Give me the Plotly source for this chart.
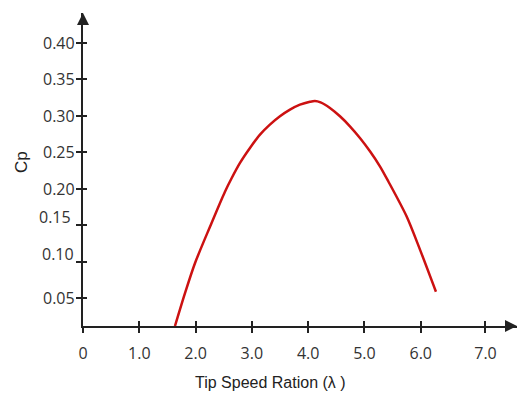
import plotly.graph_objects as go

# Data
tsr = [1.634, 1.812, 1.989, 2.256, 2.522, 2.64, 2.789, 2.966, 3.144, 3.32, 3.499, 3.677, 3.854,
       4.032, 4.12, 4.22, 4.387, 4.565, 4.742, 4.92, 5.098, 5.275, 5.423, 5.75, 5.99, 6.27]
cp = [0.012, 0.057, 0.098, 0.148, 0.196, 0.2144, 0.2354, 0.2559, 0.2741, 0.2878, 0.2993, 0.3084, 0.3152,
      0.3192, 0.3203, 0.3184, 0.3107, 0.2993, 0.2856, 0.2696, 0.2514, 0.2308, 0.2103, 0.162, 0.116, 0.059]

x_tick_vals = [0, 1, 2, 3, 4, 5, 6, 7.15]
x_tick_text = ["0", "1.0", "2.0", "3.0", "4.0", "5.0", "6.0", "7.0"]
y_tick_vals = [0.05, 0.10, 0.15, 0.20, 0.25, 0.30, 0.35, 0.40]
y_tick_text = ["0.05", "0.10", "0.15", "0.20", "0.25", "0.30", "0.35", "0.40"]

# label placement offsets (styling)
y_label_xshift = {"0.15": -10, "0.10": -7}
y_label_yshift = {"0.15": 8, "0.10": 8}

AX = "#222222"
TICKFONT = dict(family="Open Sans", size=16, color="#333333")

fig = go.Figure()
fig.add_trace(go.Scatter(x=tsr, y=cp, mode="lines",
                         line=dict(color="#cc1111", width=2.5, shape="spline", smoothing=0.8),
                         showlegend=False, hoverinfo="skip"))
# dummy trace for overlay axes (inside half of crossing ticks)
fig.add_trace(go.Scatter(x=[None], y=[None], xaxis="x2", yaxis="y2", showlegend=False))

xr = [0, 7.71]
yr = [0.012, 0.4408]

fig.update_layout(
    width=518, height=394,
    margin=dict(l=83, r=1, t=13, b=68),
    plot_bgcolor="white", paper_bgcolor="white",
    xaxis=dict(range=xr, showgrid=False, zeroline=False, showline=True, linecolor=AX, linewidth=2,
               tickmode="array", tickvals=x_tick_vals, ticktext=x_tick_text,
               ticks="outside", ticklen=5, tickwidth=2, tickcolor=AX,
               tickfont=TICKFONT, ticklabelstandoff=7),
    yaxis=dict(range=yr, showgrid=False, zeroline=False, showline=True, linecolor=AX, linewidth=2,
               tickmode="array", tickvals=y_tick_vals, ticktext=y_tick_text,
               ticks="outside", ticklen=5, tickwidth=2, tickcolor=AX, showticklabels=False),
    xaxis2=dict(range=xr, overlaying="x", anchor="y2", showgrid=False, zeroline=False,
                tickmode="array", tickvals=x_tick_vals, ticks="inside", ticklen=5, tickwidth=2,
                tickcolor=AX, showticklabels=False, side="bottom"),
    yaxis2=dict(range=yr, overlaying="y", anchor="x2", showgrid=False, zeroline=False,
                tickmode="array", tickvals=y_tick_vals, ticks="inside", ticklen=4, tickwidth=2,
                tickcolor=AX, showticklabels=False, side="left"),
)

annotations = []
for v, t in zip(y_tick_vals, y_tick_text):
    annotations.append(dict(x=0, xref="paper", y=v, yref="y", text=t, showarrow=False,
                            xanchor="right", yanchor="middle",
                            xshift=y_label_xshift.get(t, -6), yshift=y_label_yshift.get(t, 0),
                            font=TICKFONT))
# axis arrows
annotations.append(dict(x=0, y=yr[1], xref="x", yref="y", ax=0, ay=12, axref="pixel", ayref="pixel",
                        showarrow=True, arrowhead=2, arrowsize=1.2, arrowwidth=2, arrowcolor=AX, text=""))
annotations.append(dict(x=xr[1], y=yr[0], xref="x", yref="y", ax=-12, ay=0,
                        showarrow=True, arrowhead=2, arrowsize=1.2, arrowwidth=2, arrowcolor=AX, text=""))
# axis titles
annotations.append(dict(x=0, xref="paper", xshift=-61, y=0.2367, yref="y", text="Cp", textangle=-90,
                        showarrow=False, xanchor="center", yanchor="middle",
                        font=dict(family="Liberation Sans", size=17, color="#222222")))
annotations.append(dict(x=0.431, xref="paper", y=0, yref="paper", yshift=-56, text="Tip Speed Ration (λ )",
                        showarrow=False, xanchor="center", yanchor="middle",
                        font=dict(family="Liberation Sans", size=16, color="#222222")))
fig.update_layout(annotations=annotations)

fig.write_html("out.html")
